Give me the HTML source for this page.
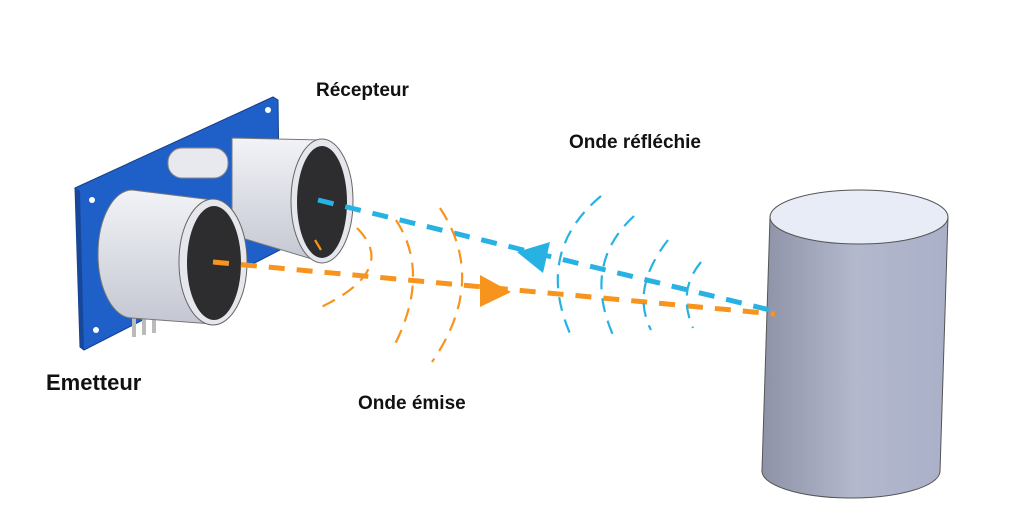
<!DOCTYPE html>
<html><head><meta charset="utf-8"><style>
html,body{margin:0;padding:0;background:#fff;}
svg{display:block}
text{font-family:"Liberation Sans",sans-serif;font-weight:bold;fill:#111}
</style></head><body>
<svg width="1024" height="525" viewBox="0 0 1024 525">
<defs>
<linearGradient id="cyl" x1="0" x2="1" y1="0" y2="0">
<stop offset="0" stop-color="#8e92a6"/><stop offset="0.5" stop-color="#b3b8cd"/><stop offset="1" stop-color="#aab0c8"/>
</linearGradient>
<linearGradient id="sens" x1="0" x2="0" y1="0" y2="1">
<stop offset="0" stop-color="#f2f3f7"/><stop offset="1" stop-color="#c4c7d2"/>
</linearGradient>
</defs>
<!-- board -->
<polygon points="75,188 273,97 278,100 280,250 84,350 80,347" fill="#1f5fc8" stroke="#143e8a" stroke-width="1"/>
<polygon points="75,188 80,191 84,350 80,347" fill="#17479a"/>
<circle cx="92" cy="200" r="3" fill="#fff"/><circle cx="268" cy="110" r="3" fill="#fff"/><circle cx="96" cy="330" r="3" fill="#fff"/>
<rect x="132" y="315" width="4" height="22" fill="#bbb"/><rect x="142" y="313" width="4" height="22" fill="#bbb"/><rect x="152" y="311" width="4" height="22" fill="#bbb"/>
<!-- crystal -->
<rect x="168" y="148" width="60" height="30" rx="14" fill="#e8e9ee" stroke="#888"/>
<!-- receiver cylinder -->
<path d="M232,138 L322,140 A30,61 0 0 1 322,262 L232,235 Z" fill="url(#sens)" stroke="#777"/>
<ellipse cx="322" cy="201" rx="31" ry="62" fill="#e6e7ec" stroke="#666"/>
<ellipse cx="322" cy="202" rx="25" ry="56" fill="#2d2d2f"/>
<!-- emitter cylinder -->
<path d="M132,190 L213,200 A33,62 0 0 1 213,324 L132,318 A34,64 0 0 1 132,190 Z" fill="url(#sens)" stroke="#777"/>
<ellipse cx="213" cy="262" rx="34" ry="63" fill="#e6e7ec" stroke="#666"/>
<ellipse cx="214" cy="263" rx="27" ry="57" fill="#2d2d2f"/>
<!-- target cylinder -->
<path d="M770,217 L762,470 A89,27 0 0 0 940,472 L948,217 Z" fill="url(#cyl)" stroke="#555"/>
<ellipse cx="859" cy="217" rx="89" ry="27" fill="#e8ecf6" stroke="#555"/>
<!-- beams -->
<line x1="318" y1="200" x2="770" y2="310" stroke="#27b2e3" stroke-width="5" stroke-dasharray="16,12"/>
<line x1="213" y1="262" x2="775" y2="314" stroke="#f7941d" stroke-width="5" stroke-dasharray="16,12"/>
<polygon points="480,275 511,292 480,307" fill="#f7941d"/>
<polygon points="550,242 517,252 543,273" fill="#27b2e3"/>
<!-- orange arcs -->
<g fill="none" stroke="#f7941d" stroke-width="2.2" stroke-dasharray="14,9">
<path d="M357,228 Q400,271 315,310"/>
<path d="M396,220 Q432,275 392,350"/>
<path d="M440,208 Q488,281 432,362"/>
</g>
<path d="M315,240 L321,250" stroke="#f7941d" stroke-width="2.2"/>
<!-- blue arcs -->
<g fill="none" stroke="#27b2e3" stroke-width="2.2" stroke-dasharray="14,9">
<path d="M601,196 Q533,253 572,338"/>
<path d="M634,216 Q582,264 613,335"/>
<path d="M668,240 Q630,289 651,330"/>
<path d="M701,262 Q677,291 693,328"/>
</g>
<text x="316" y="96" font-size="19">Récepteur</text>
<text x="569" y="148" font-size="19">Onde réfléchie</text>
<text x="46" y="390" font-size="22">Emetteur</text>
<text x="358" y="409" font-size="19">Onde émise</text>
</svg>
</body></html>
